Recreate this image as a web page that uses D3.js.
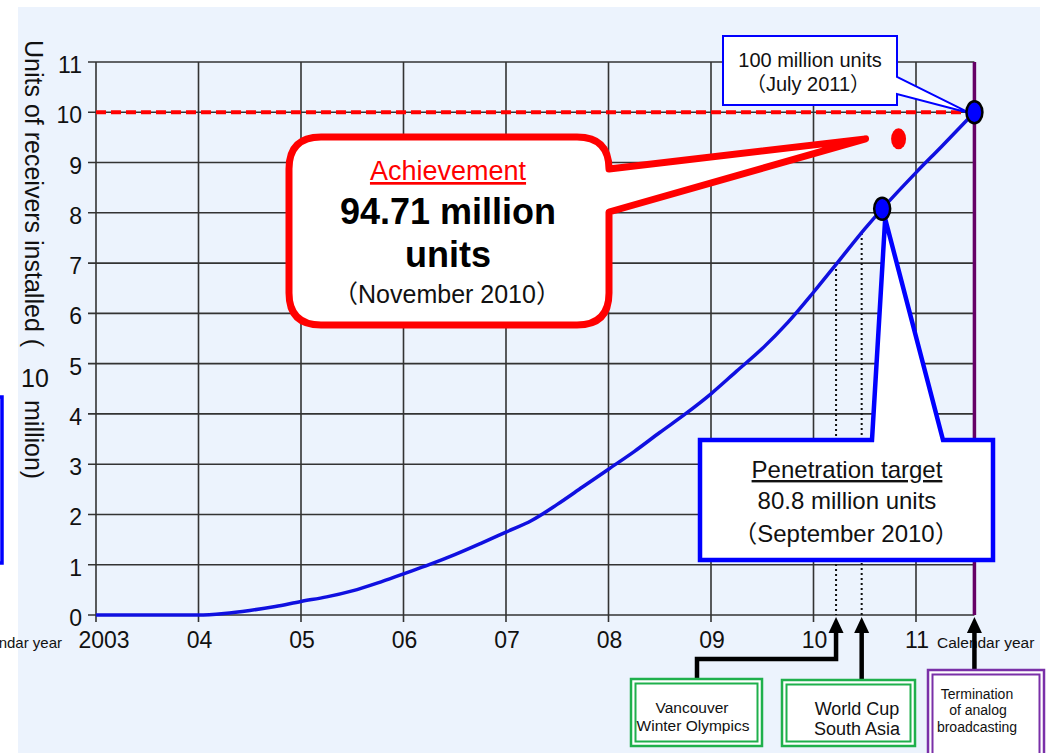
<!DOCTYPE html>
<html>
<head>
<meta charset="utf-8">
<script src="https://cdn.jsdelivr.net/npm/d3@7"></script>
<style>
  body { margin: 0; background: #ffffff; }
  text { font-family: "Liberation Sans", Arial, "Noto Sans CJK JP", sans-serif; }
</style>
</head>
<body>
<svg id="chart" width="1048" height="753"></svg>
<script>
// Cumulative digital receivers installed (units of 10 million), by calendar year
const years = [2003, 2003.5, 2004, 2004.25, 2004.5, 2004.75, 2005, 2005.25, 2005.5, 2005.75,
               2006, 2006.25, 2006.5, 2006.75, 2007, 2007.25, 2007.5, 2007.75, 2008, 2008.25,
               2008.5, 2008.75, 2009, 2009.25, 2009.5, 2009.75, 2010, 2010.25, 2010.5, 2010.67,
               2011, 2011.25, 2011.57];
const units = [0, 0, 0, 0.03, 0.09, 0.17, 0.27, 0.36, 0.48, 0.64,
               0.82, 1.0, 1.2, 1.42, 1.65, 1.88, 2.2, 2.55, 2.9, 3.25,
               3.63, 4.0, 4.4, 4.85, 5.3, 5.82, 6.42, 7.05, 7.68, 8.08,
               8.8, 9.32, 10.0];

const yTicks = [0, 1, 2, 3, 4, 5, 6, 7, 8, 9, 10, 11];
const xTickYears = [2003, 2004, 2005, 2006, 2007, 2008, 2009, 2010, 2011];
const xTickLabels = ["2003", "04", "05", "06", "07", "08", "09", "10", "11"];

// Milestones
const targetYear = 2010.67, targetValue = 8.08;         // 80.8 million, Sep 2010
const achievedYear = 2010.83, achievedValue = 9.471;    // 94.71 million, Nov 2010
const goalYear = 2011.57, goalValue = 10.0;             // 100 million, Jul 2011
const eventYears = [2010.22, 2010.47, 2011.57];         // Olympics, World Cup, analog switch-off
const eventValues = [6.98, 7.6];

const svg = d3.select("#chart");
const x = d3.scaleLinear().domain([2003, 2011]).range([96, 916]);
const y = d3.scaleLinear().domain([0, 11]).range([615, 62]);
const xEnd = x(goalYear);

// panel background
svg.append("rect").attr("x", 18).attr("y", 7).attr("width", 1022).attr("height", 760)
  .attr("fill", "#ecf3fd");

// left-edge fragment of a neighbouring box
svg.append("rect").attr("x", -20).attr("y", 397).attr("width", 22).attr("height", 166)
  .attr("fill", "none").attr("stroke", "#0000ff").attr("stroke-width", 3.5);

// grid
const grid = svg.append("g").attr("stroke", "#333").attr("stroke-width", 1.6);
grid.selectAll("line.h").data(yTicks).join("line")
  .attr("x1", x(2003) - 8).attr("x2", xEnd)
  .attr("y1", d => y(d)).attr("y2", d => y(d));
grid.selectAll("line.v").data(xTickYears).join("line")
  .attr("x1", d => x(d)).attr("x2", d => x(d))
  .attr("y1", y(11)).attr("y2", y(0) + 7);

// y tick labels
svg.append("g").selectAll("text").data(yTicks).join("text")
  .attr("x", 82).attr("y", d => y(d) + 11)
  .attr("text-anchor", "end").attr("font-size", 23).attr("fill", "#111")
  .text(d => d);

// x tick labels
svg.append("g").selectAll("text").data(xTickYears).join("text")
  .attr("x", (d, i) => x(d) + (i === 0 ? 8 : 1)).attr("y", 648)
  .attr("text-anchor", "middle").attr("font-size", 23).attr("fill", "#111")
  .text((d, i) => xTickLabels[i]);

// axis captions
svg.append("text").attr("transform", "translate(25,40) rotate(90)")
  .attr("font-size", 25).attr("fill", "#111").text("Units of receivers installed (");
svg.append("text").attr("x", 35).attr("y", 387).attr("text-anchor", "middle")
  .attr("font-size", 25).attr("fill", "#111").text("10");
svg.append("text").attr("transform", "translate(25,400) rotate(90)")
  .attr("font-size", 25).attr("fill", "#111").text("million)");
svg.append("text").attr("x", 62).attr("y", 648).attr("text-anchor", "end")
  .attr("font-size", 15).attr("fill", "#111").text("Calendar year");

// 100 million goal line
svg.append("line").attr("x1", x(2003)).attr("x2", x(goalYear) - 6)
  .attr("y1", y(goalValue)).attr("y2", y(goalValue))
  .attr("stroke", "#ff0000").attr("stroke-width", 4).attr("stroke-dasharray", "10,5");

// analog switch-off line
svg.append("line").attr("x1", xEnd).attr("x2", xEnd).attr("y1", y(11)).attr("y2", y(0))
  .attr("stroke", "#660066").attr("stroke-width", 3.5);

// event drop lines
svg.append("g").selectAll("line").data(eventValues).join("line")
  .attr("x1", (d, i) => x(eventYears[i])).attr("x2", (d, i) => x(eventYears[i]))
  .attr("y1", d => y(d)).attr("y2", y(0))
  .attr("stroke", "#111").attr("stroke-width", 2).attr("stroke-dasharray", "2,3");

// penetration curve
const line = d3.line().x((d, i) => x(years[i])).y(d => y(d)).curve(d3.curveMonotoneX);
svg.append("path").datum(units).attr("d", line)
  .attr("fill", "none").attr("stroke", "#1010e0").attr("stroke-width", 3.5);

// "Achievement" speech bubble
{
  const tx = x(achievedYear) - 33, ty = y(achievedValue) + 2;
  const L = 289, T = 137, R = 609, B = 325, r = 32;
  const p = `M${L + r},${T} H${R - r} Q${R},${T} ${R},${T + r} L${tx},${ty - 2} L${R},212
    V${B - r} Q${R},${B} ${R - r},${B} H${L + r} Q${L},${B} ${L},${B - r} V${T + r} Q${L},${T} ${L + r},${T} Z`;
  svg.append("path").attr("d", p).attr("fill", "#fff").attr("stroke", "#ff0000")
    .attr("stroke-width", 7).attr("stroke-linejoin", "round");
  svg.append("text").attr("x", 448).attr("y", 180).attr("text-anchor", "middle")
    .attr("font-size", 27).attr("fill", "#ff0000").attr("text-decoration", "underline")
    .text("Achievement");
  svg.append("text").attr("x", 448).attr("y", 224).attr("text-anchor", "middle")
    .attr("font-size", 36).attr("font-weight", "bold").attr("fill", "#000")
    .text("94.71 million");
  svg.append("text").attr("x", 448).attr("y", 267).attr("text-anchor", "middle")
    .attr("font-size", 36).attr("font-weight", "bold").attr("fill", "#000")
    .text("units");
  svg.append("text").attr("x", 447).attr("y", 303).attr("text-anchor", "middle")
    .attr("font-size", 25).attr("fill", "#111").text("（November 2010）");
}

// "Penetration target" callout
{
  const tx = x(targetYear) + 3, ty = y(targetValue) + 10;
  const p = `M700,440 H872 L${tx},${ty} L943,440 H993 V560 H700 Z`;
  svg.append("path").attr("d", p).attr("fill", "#fff").attr("stroke", "#0000ff")
    .attr("stroke-width", 4.5).attr("stroke-linejoin", "miter");
  svg.append("text").attr("x", 847).attr("y", 478).attr("text-anchor", "middle")
    .attr("font-size", 24).attr("fill", "#111").attr("text-decoration", "underline")
    .text("Penetration target");
  svg.append("text").attr("x", 847).attr("y", 509).attr("text-anchor", "middle")
    .attr("font-size", 24).attr("fill", "#111").text("80.8 million units");
  svg.append("text").attr("x", 846).attr("y", 542).attr("text-anchor", "middle")
    .attr("font-size", 24).attr("fill", "#111").text("（September 2010）");
}

// "100 million units" callout
{
  const tx = x(goalYear) - 4, ty = y(goalValue) + 1;
  const p = `M723,36 H897 V77 L${tx},${ty} L897,94 V105 H723 Z`;
  svg.append("path").attr("d", p).attr("fill", "#fff").attr("stroke", "#0000ff")
    .attr("stroke-width", 2);
  svg.append("text").attr("x", 810).attr("y", 67).attr("text-anchor", "middle")
    .attr("font-size", 20).attr("fill", "#111").text("100 million units");
  svg.append("text").attr("x", 808).attr("y", 91).attr("text-anchor", "middle")
    .attr("font-size", 20).attr("fill", "#111").text("（July  2011）");
}

// milestone markers
svg.append("ellipse").attr("cx", x(targetYear)).attr("cy", y(targetValue))
  .attr("rx", 8).attr("ry", 11).attr("fill", "#0000ff").attr("stroke", "#000").attr("stroke-width", 2.5);
svg.append("ellipse").attr("cx", x(goalYear)).attr("cy", y(goalValue))
  .attr("rx", 8).attr("ry", 11).attr("fill", "#0000ff").attr("stroke", "#000").attr("stroke-width", 2.5);
svg.append("ellipse").attr("cx", x(achievedYear)).attr("cy", y(achievedValue))
  .attr("rx", 7.5).attr("ry", 10.5).attr("fill", "#ff0000");

svg.append("text").attr("x", 937).attr("y", 648)
  .attr("font-size", 15.5).attr("fill", "#111").text("Calendar year");

// event arrows
const arrows = svg.append("g");
eventYears.forEach((yr, i) => {
  const ax = x(yr);
  arrows.append("path")
    .attr("d", `M${ax},${y(0) + 2} L${ax - 7.5},${y(0) + 18} L${ax + 7.5},${y(0) + 18} Z`)
    .attr("fill", "#000");
});
arrows.append("polyline")
  .attr("points", `${x(eventYears[0])},${y(0) + 15} ${x(eventYears[0])},659 697,659 697,679`)
  .attr("fill", "none").attr("stroke", "#000").attr("stroke-width", 4.5);
arrows.append("line").attr("x1", x(eventYears[1])).attr("x2", x(eventYears[1]))
  .attr("y1", y(0) + 15).attr("y2", 680).attr("stroke", "#000").attr("stroke-width", 4.5);
arrows.append("line").attr("x1", x(eventYears[2])).attr("x2", x(eventYears[2]))
  .attr("y1", y(0) + 15).attr("y2", 670).attr("stroke", "#000").attr("stroke-width", 4.5);

// double-bordered event boxes
function doubleBox(bx, by, w, h, color) {
  svg.append("rect").attr("x", bx).attr("y", by).attr("width", w).attr("height", h)
    .attr("fill", "#fff").attr("stroke", color).attr("stroke-width", 2.5);
  svg.append("rect").attr("x", bx + 4.5).attr("y", by + 4.5).attr("width", w - 9).attr("height", h - 9)
    .attr("fill", "none").attr("stroke", color).attr("stroke-width", 2);
}
doubleBox(631, 679, 131, 67, "#1fb04c");
doubleBox(782, 680, 133, 66, "#1fb04c");
doubleBox(928, 670, 116, 110, "#7a30a8");

const boxText = (tx, ty, size, s) =>
  svg.append("text").attr("x", tx).attr("y", ty).attr("text-anchor", "middle")
    .attr("font-size", size).attr("fill", "#111").text(s);
boxText(692, 713, 15.5, "Vancouver");
boxText(693, 731, 15.5, "Winter  Olympics");
boxText(857, 715, 18, "World Cup");
boxText(857, 735, 18, "South Asia");
boxText(977, 699, 14, "Termination");
boxText(978, 715, 14, "of analog");
boxText(977, 732, 14, "broadcasting");
</script>
</body>
</html>
